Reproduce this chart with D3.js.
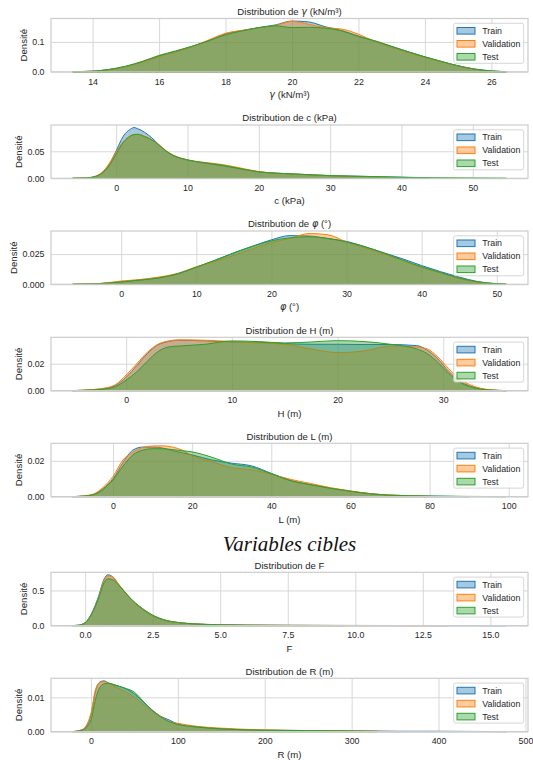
<!DOCTYPE html>
<html>
<head>
<meta charset="utf-8">
<script src="https://cdn.jsdelivr.net/npm/d3@7"></script>
<style>
  body { margin: 0; background: #fff; }
  svg { display: block; font-family: 'Liberation Sans', Arial, sans-serif; }
</style>
</head>
<body>
<div id="chart"></div>
<script>
const seriesNames = ['Train', 'Validation', 'Test'];
const colors = ['#1f77b4', '#ff7f0e', '#2ca02c'];

// gamma (kN/m3)
const gammaX = [13.4, 14, 14.5, 15, 15.5, 16, 16.5, 17, 17.5, 18, 18.5, 19, 19.5, 20, 20.5, 21, 21.5, 22, 22.5, 23, 23.5, 24, 24.5, 25, 25.5, 26, 26.45];
const gammaTrain = [0.0005, 0.002, 0.008, 0.018, 0.034, 0.053, 0.068, 0.085, 0.105, 0.127, 0.138, 0.148, 0.157, 0.170, 0.167, 0.151, 0.138, 0.120, 0.102, 0.085, 0.067, 0.050, 0.034, 0.020, 0.009, 0.003, 0.0005];
const gammaVal = [0.0005, 0.002, 0.007, 0.017, 0.032, 0.051, 0.066, 0.084, 0.107, 0.129, 0.139, 0.147, 0.155, 0.169, 0.159, 0.148, 0.143, 0.126, 0.101, 0.081, 0.064, 0.048, 0.033, 0.020, 0.009, 0.002, 0.0005];
const gammaTest = [0.0005, 0.002, 0.008, 0.019, 0.035, 0.055, 0.070, 0.086, 0.104, 0.124, 0.137, 0.148, 0.154, 0.148, 0.149, 0.146, 0.137, 0.118, 0.104, 0.085, 0.067, 0.050, 0.035, 0.020, 0.009, 0.003, 0.0005];
const gammaTicks = [14, 16, 18, 20, 22, 24, 26];
const gammaYTicks = [0, 0.1];

// c (kPa)
const cohX = [-6.1, -4, -3, -2, -1, 0, 1, 2, 2.5, 3, 4, 5, 6, 7, 8, 10, 12, 15, 18, 20, 25, 30, 35, 40, 44, 50, 54.7];
const cohTrain = [0, 0.001, 0.003, 0.010, 0.025, 0.051, 0.078, 0.091, 0.094, 0.092, 0.085, 0.075, 0.062, 0.050, 0.042, 0.034, 0.029, 0.023, 0.016, 0.012, 0.008, 0.005, 0.0035, 0.002, 0.0005, null, null];
const cohVal = [0, 0.001, 0.0035, 0.011, 0.027, 0.049, 0.068, 0.079, 0.081, 0.0815, 0.078, 0.0715, 0.062, 0.051, 0.043, 0.034, 0.030, 0.0253, 0.0175, 0.0125, 0.0075, 0.0048, 0.003, 0.0005, null, null, null];
const cohTest = [0, 0.001, 0.003, 0.009, 0.023, 0.045, 0.0665, 0.078, 0.081, 0.0815, 0.077, 0.071, 0.0615, 0.0505, 0.0425, 0.034, 0.0295, 0.024, 0.0165, 0.012, 0.008, 0.005, 0.0035, 0.002, 0.0012, 0.0005, 0];
const cohTicks = [0, 10, 20, 30, 40, 50];
const cohYTicks = [0, 0.05];

// phi (deg)
const phiX = [-6.46, -3, 0, 2.5, 5, 7.5, 10, 12.5, 15, 17.5, 20, 22.5, 25, 27.5, 30, 32.5, 35, 37.5, 40, 42.5, 45, 47.5, 50, 51.27];
const phiTrain = [0, 0.0005, 0.002, 0.0035, 0.0053, 0.0085, 0.014, 0.0198, 0.026, 0.0315, 0.0368, 0.0403, 0.0400, 0.0378, 0.0355, 0.031, 0.026, 0.021, 0.0155, 0.0105, 0.006, 0.0022, 0.0005, 0];
const phiVal = [0, 0.0006, 0.0027, 0.004, 0.006, 0.009, 0.0145, 0.019, 0.024, 0.0295, 0.0345, 0.038, 0.042, 0.041, 0.035, 0.030, 0.025, 0.0195, 0.014, 0.0095, 0.0047, 0.0018, 0.0004, 0];
const phiTest = [0, 0.0005, 0.002, 0.0035, 0.0053, 0.0088, 0.0142, 0.020, 0.026, 0.0315, 0.036, 0.0385, 0.0393, 0.038, 0.035, 0.031, 0.0258, 0.020, 0.0145, 0.0098, 0.0053, 0.002, 0.0005, 0];
const phiTicks = [0, 10, 20, 30, 40, 50];
const phiYTicks = [0, 0.025];

// H (m)
const hX = [-5.06, -3, -2, -1, 0, 1, 2, 3, 4, 5, 7.5, 10, 12.5, 15, 17.5, 20, 22.5, 25, 27.5, 28.5, 29.5, 30.5, 31.5, 32.5, 33.5, 34.5, 35.97];
const hTrain = [0, 0.0008, 0.0016, 0.0038, 0.0100, 0.0185, 0.0275, 0.0340, 0.0365, 0.0375, 0.0370, 0.0362, 0.0360, 0.0350, 0.0345, 0.0345, 0.0343, 0.0343, 0.0335, 0.030, 0.0235, 0.0145, 0.0075, 0.0035, 0.0014, 0.0005, 0];
const hVal = [0, 0.0009, 0.0019, 0.0045, 0.0116, 0.0200, 0.0285, 0.0345, 0.0370, 0.0378, 0.0375, 0.0365, 0.0355, 0.0345, 0.0310, 0.0283, 0.0295, 0.0332, 0.0325, 0.031, 0.025, 0.0165, 0.009, 0.0045, 0.0018, 0.0006, 0];
const hTest = [0, 0.0006, 0.0012, 0.0030, 0.0078, 0.0140, 0.0218, 0.0290, 0.0325, 0.0332, 0.0345, 0.0370, 0.0365, 0.0355, 0.0362, 0.0372, 0.0365, 0.0345, 0.0310, 0.0275, 0.021, 0.013, 0.0065, 0.003, 0.0012, 0.0004, 0];
const hTicks = [0, 10, 20, 30];
const hYTicks = [0, 0.02];

// L (m)
const lX = [-10.2, -7.5, -5, -2.5, 0, 2.5, 5, 7.5, 10, 12.5, 15, 17.5, 20, 25, 30, 35, 40, 45, 50, 55, 60, 65, 70, 80, 90, 99.4];
const lTrain = [0, 0.0003, 0.0012, 0.0045, 0.0100, 0.0190, 0.0260, 0.0277, 0.0277, 0.0272, 0.0257, 0.0245, 0.0233, 0.0205, 0.0187, 0.0172, 0.0130, 0.0090, 0.0067, 0.0047, 0.0030, 0.0016, 0.0008, 0.0003, 0, null];
const lVal = [0, 0.0004, 0.0014, 0.0052, 0.0113, 0.0205, 0.0248, 0.0275, 0.0283, 0.0284, 0.0277, 0.0260, 0.0228, 0.0195, 0.0162, 0.0150, 0.0125, 0.0096, 0.0073, 0.0050, 0.0032, 0.0017, 0.0009, 0.0002, null, null];
const lTest = [0, 0.0003, 0.0010, 0.0040, 0.0094, 0.0170, 0.0233, 0.0260, 0.0268, 0.0268, 0.0263, 0.0257, 0.0250, 0.0220, 0.0182, 0.0165, 0.0128, 0.0088, 0.0066, 0.0046, 0.0030, 0.0016, 0.0008, 0.0003, 0.0001, 0];
const lTicks = [0, 20, 40, 60, 80, 100];
const lYTicks = [0, 0.02];

// F
const fX = [-0.46, -0.25, 0, 0.25, 0.5, 0.7, 0.85, 1.0, 1.25, 1.5, 1.75, 2.0, 2.5, 3.0, 3.5, 4.0, 5.0, 6.0, 7.5, 9.6, 11.5, 13.4, 15.59];
const fTrain = [0, 0.005, 0.04, 0.18, 0.42, 0.66, 0.722, 0.70, 0.58, 0.46, 0.355, 0.27, 0.14, 0.07, 0.04, 0.025, 0.012, 0.007, 0.004, 0.002, 0.001, 0.0008, 0.0003];
const fVal = [0, 0.004, 0.035, 0.17, 0.40, 0.645, 0.708, 0.70, 0.585, 0.465, 0.36, 0.275, 0.145, 0.072, 0.042, 0.026, 0.012, 0.007, 0.004, 0.002, 0.001, 0.0005, null];
const fTest = [0, 0.005, 0.04, 0.17, 0.39, 0.61, 0.665, 0.655, 0.575, 0.465, 0.36, 0.28, 0.15, 0.075, 0.042, 0.025, 0.012, 0.006, 0.003, 0.0008, null, null, null];
const fTicks = [0, 2.5, 5, 7.5, 10, 12.5, 15];
const fYTicks = [0, 0.5];

// R (m)
const rX = [-21, -10, 0, 5, 10, 15, 20, 30, 40, 50, 60, 70, 80, 90, 100, 120, 150, 200, 250, 300, 330, 355, 400, 478];
const rTrain = [0, 0.0005, 0.0048, 0.0115, 0.0144, 0.0148, 0.0142, 0.0134, 0.0125, 0.0110, 0.0087, 0.0064, 0.0045, 0.0034, 0.0022, 0.0014, 0.0008, 0.0004, 0.0003, 0.0002, 0.00015, 0.0001, 0.0001, 0];
const rVal = [0, 0.0006, 0.0053, 0.0120, 0.0143, 0.0146, 0.0141, 0.0128, 0.0116, 0.0101, 0.0080, 0.0060, 0.0045, 0.0029, 0.0024, 0.0016, 0.0010, 0.0005, 0.0003, 0.0002, 0.0001, 0, null, null];
const rTest = [0, 0.0004, 0.0034, 0.0091, 0.0128, 0.0139, 0.0141, 0.0134, 0.0126, 0.0115, 0.0089, 0.0063, 0.0043, 0.0029, 0.0021, 0.0014, 0.0008, 0.0004, 0.0003, 0.0002, 0.0001, null, null, null];
const rTicks = [0, 100, 200, 300, 400, 500];
const rYTicks = [0, 0.01];

const panels = [
  { title: 'Distribution de γ (kN/m³)', xlabel: 'γ (kN/m³)', x: gammaX, series: [gammaTrain, gammaVal, gammaTest], xTicks: gammaTicks, yTicks: gammaYTicks, xFmt: 'd', yFmt: '.1f' },
  { title: 'Distribution de c (kPa)', xlabel: 'c (kPa)', x: cohX, series: [cohTrain, cohVal, cohTest], xTicks: cohTicks, yTicks: cohYTicks, xFmt: 'd', yFmt: '.2f' },
  { title: 'Distribution de φ (°)', xlabel: 'φ (°)', x: phiX, series: [phiTrain, phiVal, phiTest], xTicks: phiTicks, yTicks: phiYTicks, xFmt: 'd', yFmt: '.3f' },
  { title: 'Distribution de H (m)', xlabel: 'H (m)', x: hX, series: [hTrain, hVal, hTest], xTicks: hTicks, yTicks: hYTicks, xFmt: 'd', yFmt: '.2f' },
  { title: 'Distribution de L (m)', xlabel: 'L (m)', x: lX, series: [lTrain, lVal, lTest], xTicks: lTicks, yTicks: lYTicks, xFmt: 'd', yFmt: '.2f' },
  { title: 'Distribution de F', xlabel: 'F', x: fX, series: [fTrain, fVal, fTest], xTicks: fTicks, yTicks: fYTicks, xFmt: '.1f', yFmt: '.1f' },
  { title: 'Distribution de R (m)', xlabel: 'R (m)', x: rX, series: [rTrain, rVal, rTest], xTicks: rTicks, yTicks: rYTicks, xFmt: 'd', yFmt: '.2f' }
];

// layout
const width = 533, height = 760;
const left = 51, right = 528, panelH = 53.3;
const panelTops = [18.5, 125, 231, 337.3, 443.3, 572.3, 678.3];
const textColor = '#262626';
const gridColor = '#d4d4d4';

const svg = d3.select('#chart').append('svg')
  .attr('width', width)
  .attr('height', height);

// greek letters are rendered like matplotlib mathtext (italic)
const addRichText = (sel, str) => {
  str.split(/([γφ])/).filter(s => s.length).forEach(part => {
    const t = sel.append('tspan').text(part);
    if (part === 'γ' || part === 'φ') {
      t.style('font-style', 'italic').style('font-family', "'DejaVu Sans', sans-serif");
    }
  });
};

panels.forEach((p, k) => {
  const top = panelTops[k];
  const bottom = top + panelH;
  const g = svg.append('g');

  const lo = d3.min(p.x), hi = d3.max(p.x);
  const pad = (hi - lo) * 0.05;
  const x = d3.scaleLinear().domain([lo - pad, hi + pad]).range([left, right]);
  const ymax = d3.max(p.series.flat().filter(v => v != null));
  const y = d3.scaleLinear().domain([0, ymax * 1.05]).range([bottom, top]);

  // x grid + labels
  const xAxis = g.append('g')
    .attr('transform', `translate(0,${bottom})`)
    .call(d3.axisBottom(x).tickValues(p.xTicks).tickSize(-panelH).tickPadding(6.5).tickFormat(d3.format(p.xFmt)));
  // y grid + labels
  const yAxis = g.append('g')
    .attr('transform', `translate(${left},0)`)
    .call(d3.axisLeft(y).tickValues(p.yTicks).tickSize(-(right - left)).tickPadding(6.5).tickFormat(d3.format(p.yFmt)));

  [xAxis, yAxis].forEach(a => {
    a.select('.domain').remove();
    a.selectAll('line').attr('stroke', gridColor).attr('stroke-width', 0.9);
    a.selectAll('text')
      .attr('fill', textColor)
      .style('font-size', '8.8px')
      .style('font-family', "'Liberation Sans', Arial, sans-serif");
  });

  // densities, drawn in order Train, Validation, Test
  const area = d3.area()
    .defined(d => d[1] != null)
    .x(d => x(d[0]))
    .y0(y(0))
    .y1(d => y(d[1]))
    .curve(d3.curveMonotoneX);

  p.series.forEach((vals, i) => {
    const pts = p.x.map((v, j) => [v, vals[j]]);
    g.append('path')
      .attr('d', area(pts))
      .attr('fill', colors[i])
      .attr('fill-opacity', 0.4)
      .attr('stroke', colors[i])
      .attr('stroke-width', 1)
      .attr('stroke-linejoin', 'round');
  });

  // spines
  g.append('rect')
    .attr('x', left).attr('y', top)
    .attr('width', right - left).attr('height', panelH)
    .attr('fill', 'none')
    .attr('stroke', '#cccccc')
    .attr('stroke-width', 1.2);

  // title
  const title = g.append('text')
    .attr('x', (left + right) / 2)
    .attr('y', top - 3.8)
    .attr('text-anchor', 'middle')
    .attr('fill', textColor)
    .style('font-size', '9.6px');
  addRichText(title, p.title);

  // x label
  const xl = g.append('text')
    .attr('x', (left + right) / 2)
    .attr('y', bottom + 26)
    .attr('text-anchor', 'middle')
    .attr('fill', textColor)
    .style('font-size', '9.6px');
  addRichText(xl, p.xlabel);

  // y label sits left of the widest tick label
  let maxW = 0;
  yAxis.selectAll('text').each(function () {
    maxW = Math.max(maxW, this.getComputedTextLength());
  });
  const yl = left - 6.5 - maxW - 5;
  g.append('text')
    .attr('transform', `translate(${yl},${(top + bottom) / 2}) rotate(-90)`)
    .attr('text-anchor', 'middle')
    .attr('fill', textColor)
    .style('font-size', '9.6px')
    .text('Densité');

  // legend
  const lgW = 70, lgH = 40;
  const lg = g.append('g')
    .attr('transform', `translate(${right - 4.3 - lgW},${top + 4.8})`);
  lg.append('rect')
    .attr('width', lgW).attr('height', lgH)
    .attr('rx', 2)
    .attr('fill', '#fff').attr('fill-opacity', 0.8)
    .attr('stroke', '#cccccc').attr('stroke-width', 0.8);
  const rows = lg.selectAll('g.row')
    .data(seriesNames)
    .join('g')
    .attr('transform', (d, i) => `translate(0,${7.5 + i * 13})`);
  rows.append('rect')
    .attr('x', 3.3).attr('y', -3.3)
    .attr('width', 18).attr('height', 6.6)
    .attr('fill', (d, i) => colors[i]).attr('fill-opacity', 0.4)
    .attr('stroke', (d, i) => colors[i]).attr('stroke-width', 1);
  rows.append('text')
    .attr('x', 28.6).attr('dy', '0.35em')
    .attr('fill', textColor)
    .style('font-size', '8.8px')
    .text(d => d);
});

// section heading between the feature and target panels
svg.append('text')
  .attr('x', (left + right) / 2)
  .attr('y', 551)
  .attr('text-anchor', 'middle')
  .attr('fill', '#111')
  .style('font-family', "'Liberation Serif', 'Times New Roman', serif")
  .style('font-style', 'italic')
  .style('font-size', '21px')
  .text('Variables cibles');
</script>
</body>
</html>
